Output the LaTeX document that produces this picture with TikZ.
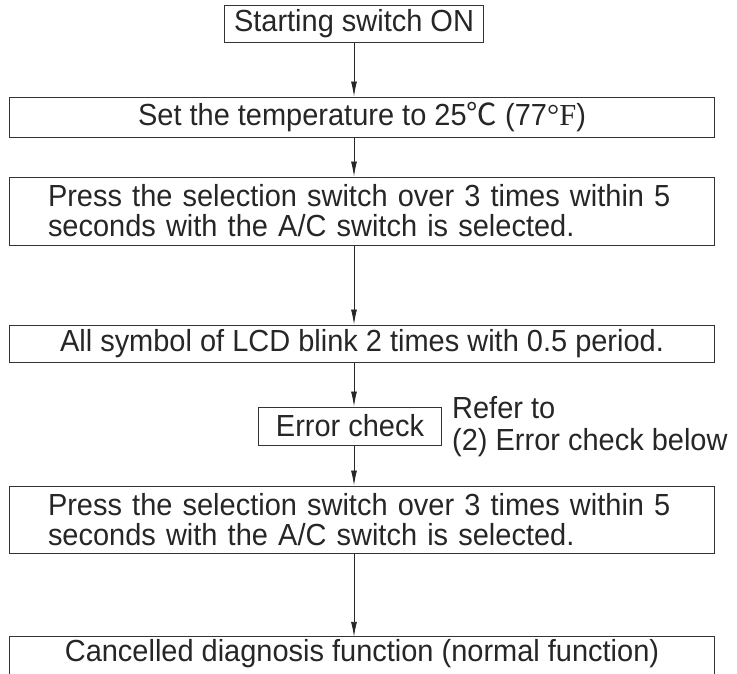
\documentclass[tikz,border=0pt]{standalone}
\usepackage{fontspec}
\setmainfont{Liberation Sans}[FakeStretch=0.95]
\newfontfamily\cjk{Noto Sans CJK SC}
\newfontfamily\serif{Liberation Serif}
\usetikzlibrary{arrows.meta, positioning}

\tikzset{
  stepbox/.style={draw=black!80, line width=1pt, rectangle, inner sep=0pt, minimum height=37pt},
  widebox/.style={stepbox, minimum width=705pt},
  flow/.style={draw=black!85, line width=0.9pt, -{Latex[length=15pt,width=6pt]}},
  note/.style={anchor=base west, inner sep=0pt},
}

\begin{document}
\begin{tikzpicture}[x=1pt,y=1pt,font=\fontsize{30.5}{30}\selectfont,text=black!85]
\useasboundingbox (0,0) rectangle (737,-673);

\node[stepbox, minimum width=259pt] (start) at (354,-23.5) {Starting switch ON};
\node[widebox, minimum height=40pt] (temp) at (362,-117)
    {Set the temperature to 25{\cjk ℃} (77{\serif °F})};
\node[widebox, minimum height=68pt, text width=628pt, align=left] (press) at (362,-211)
    {Press the selection switch over 3 times within 5\\seconds with the A/C switch is selected.};
\node[widebox] (blink) at (362,-343.5) {All symbol of LCD blink 2 times with 0.5 period.};
\node[stepbox, minimum width=183pt, minimum height=38pt] (check) at (350,-426) {Error check};
\node[note] (refer) at (452,-418) {Refer to};
\node[note] (referb) at (452,-450) {(2) Error check below};
\node[widebox, minimum height=67pt, text width=628pt, align=left] (again) at (362,-519.5)
    {Press the selection switch over 3 times within 5\\seconds with the A/C switch is selected.};

% last box runs off the page
\node[minimum width=705pt, minimum height=34pt, inner sep=0pt] (cancel) at (362,-654)
    {Cancelled diagnosis function (normal function)};
\draw[draw=black!80, line width=1pt] ([yshift=-30pt]cancel.south west) -- (cancel.north west)
    -- (cancel.north east) -- ([yshift=-30pt]cancel.south east);

\draw[flow] (start.south) -- (start.south |- temp.north);
\draw[flow] (start.south |- temp.south) -- (start.south |- press.north);
\draw[flow] (start.south |- press.south) -- (start.south |- blink.north);
\draw[flow] (start.south |- blink.south) -- (start.south |- check.north);
\draw[flow] (start.south |- check.south) -- (start.south |- again.north);
\draw[flow] (start.south |- again.south) -- (start.south |- cancel.north);

\end{tikzpicture}
\end{document}
